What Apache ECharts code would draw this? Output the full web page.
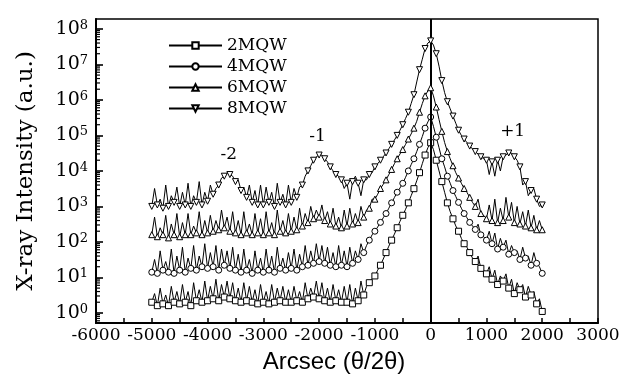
<!DOCTYPE html>
<html>
<head>
<meta charset="utf-8">
<script src="https://cdn.jsdelivr.net/npm/echarts@6/dist/echarts.min.js"></script>
<style>
  html, body { margin: 0; padding: 0; background: #fff; }
  #chart { width: 623px; height: 381px; }
</style>
</head>
<body>
<div id="chart"></div>
<script>
// Scan positions (arcsec), 50 arcsec steps from -5000 to 2000
const arcsec = [];
for (let x = -5000; x <= 2000; x += 50) arcsec.push(x);

// Measured intensity (a.u.), one row per 500 arcsec
const mqw2 = [
  2.0, 3.5, 1.6, 5.0, 1.8, 3.2, 1.6, 5.6, 2.0, 4.0,
  1.8, 6.3, 2.0, 4.0, 1.6, 7.1, 2.2, 4.5, 2.0, 7.9,
  2.2, 5.6, 2.5, 8.9, 2.2, 6.3, 2.8, 7.9, 2.5, 7.1,
  2.2, 5.0, 2.0, 7.1, 2.2, 5.6, 2.0, 4.5, 1.8, 6.3,
  2.0, 4.0, 1.8, 6.3, 2.0, 5.0, 2.2, 5.6, 2.0, 4.5,
  2.0, 5.6, 2.2, 4.0, 2.0, 7.1, 2.5, 5.0, 2.8, 7.9,
  2.5, 7.1, 2.2, 5.0, 2.0, 6.3, 2.2, 4.5, 2.0, 5.6,
  2.0, 6.3, 1.8, 5.0, 2.2, 7.9, 3.2, 5.6, 7.1, 8.9,
  11, 16, 22, 33, 50, 76, 112, 166, 251, 380,
  562, 832, 1260, 2000, 3160, 5250, 8910, 1.6e4, 2.8e4, 4.5e4,
  6.2e4, 4.0e4, 2.0e4, 1.0e4, 5.0e3, 2.5e3, 1260, 710, 447, 282,
  200, 126, 89, 71, 50, 35, 28, 40, 18, 16,
  12.6, 20, 8.9, 16, 6.3, 11, 7.9, 12.6, 5.0, 8.9,
  3.5, 7.1, 4.5, 6.3, 2.8, 5.6, 3.2, 4.0, 1.8, 2.5,
  1.1
];
const mqw4 = [
  14, 32, 13, 56, 16, 28, 14, 63, 13, 40,
  16, 71, 14, 35, 18, 79, 16, 40, 20, 89,
  18, 50, 20, 79, 16, 63, 22, 56, 18, 71,
  16, 45, 14, 63, 16, 32, 13, 56, 16, 35,
  14, 63, 16, 40, 14, 71, 18, 35, 16, 50,
  18, 63, 16, 45, 20, 79, 22, 56, 25, 89,
  28, 79, 25, 71, 22, 50, 20, 79, 22, 56,
  20, 71, 25, 56, 32, 89, 50, 79, 112, 158,
  200, 263, 355, 479, 630, 891, 1260, 1780, 2510, 3310,
  4470, 6610, 1.0e4, 1.5e4, 2.2e4, 3.5e4, 5.6e4, 9.3e4, 1.6e5, 2.4e5,
  3.3e5, 1.8e5, 8.9e4, 4.5e4, 2.2e4, 1.3e4, 7.1e3, 4.5e3, 2.8e3, 1.9e3,
  1.3e3, 890, 630, 479, 355, 282, 224, 316, 158, 141,
  112, 200, 89, 178, 63, 126, 71, 112, 45, 79,
  50, 56, 32, 71, 35, 40, 22, 50, 25, 20,
  13
];
const mqw6 = [
  160, 500, 140, 250, 160, 560, 130, 320, 160, 630,
  140, 350, 160, 630, 160, 280, 180, 710, 160, 400,
  180, 560, 200, 400, 220, 790, 250, 500, 200, 710,
  180, 400, 160, 710, 180, 320, 160, 630, 180, 450,
  160, 710, 180, 350, 160, 790, 200, 400, 180, 630,
  200, 500, 220, 890, 280, 630, 350, 1.0e3, 450, 790,
  500, 1.1e3, 400, 710, 320, 890, 280, 500, 250, 790,
  280, 890, 320, 630, 350, 1.0e3, 500, 790, 890, 1.6e3,
  1.6e3, 2.2e3, 3.2e3, 4.2e3, 5.6e3, 7.9e3, 1.1e4, 1.6e4, 2.2e4, 3.0e4,
  4.0e4, 5.6e4, 7.9e4, 1.1e5, 1.6e5, 2.5e5, 4.5e5, 7.9e5, 1.3e6, 1.8e6,
  2.2e6, 1.3e6, 6.3e5, 2.8e5, 1.3e5, 6.3e4, 3.5e4, 2.2e4, 1.4e4, 8.9e3,
  6.3e3, 4.5e3, 3.2e3, 2.5e3, 1.8e3, 1.3e3, 1.0e3, 1.6e3, 630, 560,
  450, 1.1e3, 400, 1.6e3, 350, 890, 400, 1.8e3, 500, 1.3e3,
  350, 1.0e3, 320, 710, 280, 790, 250, 560, 220, 400,
  220
];
const mqw8 = [
  1.0e3, 3.2e3, 1.1e3, 1.6e3, 8.9e2, 4.0e3, 1.0e3, 2.0e3, 1.3e3, 3.5e3,
  1.0e3, 2.5e3, 1.1e3, 4.5e3, 1.0e3, 2.0e3, 1.3e3, 5.0e3, 1.1e3, 2.5e3,
  1.4e3, 4.0e3, 2.2e3, 3.2e3, 4.0e3, 6.3e3, 7.1e3, 8.9e3, 7.9e3, 7.1e3,
  5.0e3, 5.6e3, 2.8e3, 3.5e3, 1.8e3, 4.0e3, 1.3e3, 2.8e3, 1.1e3, 4.0e3,
  1.1e3, 3.5e3, 1.3e3, 2.5e3, 1.0e3, 4.5e3, 1.3e3, 2.2e3, 1.1e3, 4.0e3,
  1.3e3, 3.2e3, 1.8e3, 3.5e3, 4.0e3, 7.1e3, 1.0e4, 1.4e4, 2.0e4, 2.5e4,
  2.8e4, 2.8e4, 2.2e4, 1.8e4, 1.3e4, 1.0e4, 7.9e3, 7.1e3, 5.6e3, 3.2e3,
  4.5e3, 1.6e3, 5.0e3, 7.1e3, 4.5e3, 2.0e3, 5.6e3, 5.6e3, 7.9e3, 8.9e3,
  1.3e4, 1.6e4, 2.0e4, 2.5e4, 3.2e4, 4.2e4, 5.6e4, 7.4e4, 1.0e5, 1.4e5,
  2.0e5, 3.0e5, 4.5e5, 7.9e5, 1.4e6, 3.2e6, 7.1e6, 1.4e7, 2.8e7, 4.0e7,
  4.6e7, 3.5e7, 2.0e7, 8.9e6, 3.5e6, 1.6e6, 8.9e5, 5.6e5, 3.5e5, 2.2e5,
  1.4e5, 1.0e5, 7.9e4, 6.3e4, 5.0e4, 4.2e4, 3.5e4, 3.0e4, 2.5e4, 2.2e4,
  2.0e4, 7.9e3, 1.8e4, 7.1e3, 2.0e4, 1.0e4, 2.5e4, 2.8e4, 3.2e4, 3.2e4,
  2.5e4, 2.0e4, 1.3e4, 4.0e3, 5.0e3, 2.0e3, 2.8e3, 3.2e3, 1.6e3, 1.0e3,
  1.1e3
];

const seriesNames = ['2MQW', '4MQW', '6MQW', '8MQW'];
const seriesValues = [mqw2, mqw4, mqw6, mqw8];
const seriesSymbols = ['rect', 'circle', 'triangle', 'path://M0,0L10,0L5,9Z'];

// Satellite peak labels and their anchor points (arcsec, intensity)
const peakLabels = ['-2', '-1', '+1'];
const peakLabelX = [-3620, -2030, 1470];
const peakLabelY = [2.8e4, 9.1e4, 1.26e5];

const xTickLabels = ['-6000', '-5000', '-4000', '-3000', '-2000', '-1000', '0', '1000', '2000', '3000'];

const yMin = 0.52, yMax = 1.9e8;
// 2..9 x 10^k positions for the small ticks on the intensity axis
const yMinorTicks = [];
for (let e = -1; e <= 8; e++) {
  for (let m = 2; m <= 9; m++) {
    const v = m * Math.pow(10, e);
    if (v > yMin && v < yMax) yMinorTicks.push(v);
  }
}

const SERIF = 'DejaVu Serif';

const chart = echarts.init(document.getElementById('chart'), null, { renderer: 'canvas' });

const series = seriesNames.map((name, k) => {
  const s = {
    name: name,
    type: 'line',
    // markers on every other sample (the 100 arcsec grid)
    data: arcsec.map((x, i) => i % 2 === 0
      ? [x, seriesValues[k][i]]
      : { value: [x, seriesValues[k][i]], symbol: 'none' }),
    symbol: seriesSymbols[k],
    symbolSize: 6,
    showAllSymbol: true,
    lineStyle: { color: '#000', width: 1 },
    itemStyle: { color: '#fff', borderColor: '#000', borderWidth: 1 },
    emphasis: { disabled: true },
    animation: false,
    z: 3 + k
  };
  if (k === 3) {
    s.markPoint = {
      symbol: 'circle',
      symbolSize: 0,
      silent: true,
      animation: false,
      label: {
        show: true,
        position: 'inside',
        formatter: (p) => p.name,
        color: '#000',
        fontFamily: SERIF,
        fontSize: 17
      },
      data: peakLabels.map((t, i) => ({ name: t, coord: [peakLabelX[i], peakLabelY[i]] }))
    };
  }
  if (k === 0) {
    s.markLine = {
      silent: true,
      animation: false,
      symbol: ['none', 'none'],
      label: { show: false },
      lineStyle: { color: '#000', width: 2, type: 'solid' },
      data: [{ xAxis: 0 }]
    };
  }
  return s;
});

// small ticks drawn inward from the left axis line
series.push({
  type: 'custom',
  clip: false,
  silent: true,
  animation: false,
  z: 20,
  data: yMinorTicks.map((v) => [-6000, v]),
  renderItem: (params, api) => {
    const p = api.coord([api.value(0), api.value(1)]);
    return {
      type: 'line',
      shape: { x1: p[0], y1: p[1], x2: p[0] + 4, y2: p[1] },
      style: { stroke: '#000', lineWidth: 1.2 }
    };
  }
});

chart.setOption({
  backgroundColor: '#fff',
  animation: false,
  grid: {
    left: 96, right: 25, top: 19, bottom: 58,
    show: true, borderColor: '#000', borderWidth: 1.5
  },
  legend: {
    data: seriesNames,
    orient: 'vertical',
    left: 163,
    top: 32,
    itemWidth: 53,
    itemHeight: 8,
    itemGap: 4,
    textStyle: { fontFamily: SERIF, fontSize: 17, color: '#000' },
    inactiveColor: '#000'
  },
  xAxis: {
    type: 'value',
    min: -6000,
    max: 3000,
    interval: 500,
    splitLine: { show: false },
    axisLine: { show: true, onZero: false, lineStyle: { color: '#000', width: 2 } },
    axisTick: { show: true, inside: true, length: 5, lineStyle: { color: '#000', width: 1.5 } },
    axisLabel: {
      margin: 4,
      color: '#000',
      fontFamily: SERIF,
      fontSize: 17,
      formatter: (v) => {
        const idx = xTickLabels.indexOf(String(v));
        return idx >= 0 ? xTickLabels[idx] : '';
      }
    },
    name: 'Arcsec (\u03b8/2\u03b8)',
    nameLocation: 'middle',
    nameGap: 27,
    nameTextStyle: { fontFamily: 'Liberation Sans', fontSize: 24, color: '#000', padding: [0, 26, 0, 0] }
  },
  yAxis: {
    type: 'log',
    logBase: 10,
    min: yMin,
    max: yMax,
    splitNumber: 9,
    splitLine: { show: false },
    axisLine: { show: true, onZero: false, lineStyle: { color: '#000', width: 2 } },
    axisTick: { show: true, inside: true, length: 7, lineStyle: { color: '#000', width: 1.6 } },
    axisLabel: {
      margin: 8,
      showMinLabel: false,
      showMaxLabel: false,
      formatter: (v) => {
        const e = Math.log10(v);
        if (Math.abs(e - Math.round(e)) > 1e-6) return '';
        return '{b|10}{s|' + Math.round(e) + '}';
      },
      rich: {
        b: { fontFamily: SERIF, fontSize: 19, color: '#000', lineHeight: 20 },
        s: { fontFamily: SERIF, fontSize: 13, color: '#000', verticalAlign: 'top', lineHeight: 13 }
      }
    },
    name: 'X-ray Intensity (a.u.)',
    nameLocation: 'middle',
    nameGap: 58,
    nameRotate: 90,
    nameTextStyle: { fontFamily: SERIF, fontSize: 23, color: '#000' }
  },
  series: series
});
</script>
</body>
</html>
